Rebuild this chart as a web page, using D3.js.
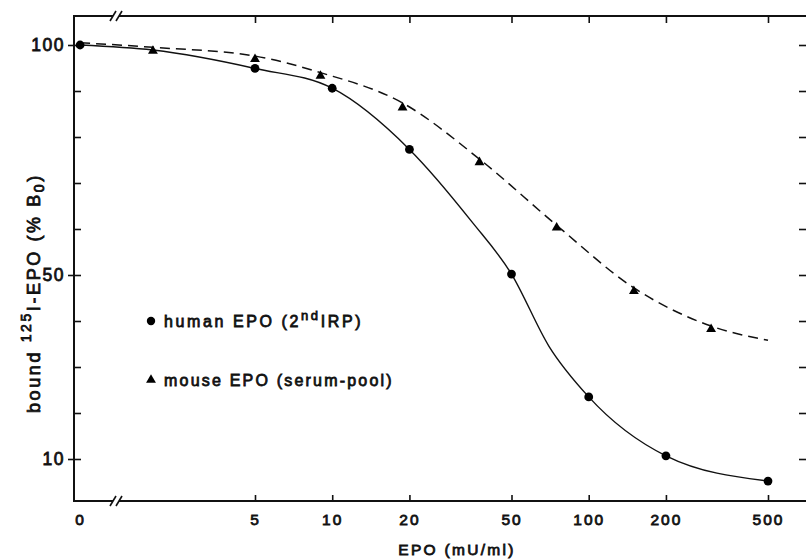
<!DOCTYPE html>
<html>
<head>
<meta charset="utf-8">
<script src="https://cdn.jsdelivr.net/npm/d3@7"></script>
<style>
  html, body { margin: 0; padding: 0; background: #fff; }
  svg { display: block; }
  text { font-family: "Liberation Sans", Arial, Helvetica, sans-serif; fill: #111; }
</style>
</head>
<body>
<svg id="chart" width="806" height="560"></svg>
<script>
// ---- data ----
const xTickValues = [0, 5, 10, 20, 50, 100, 200, 500];
const yMajorTicks = [10, 50, 100];
const yMinorTicks = [10, 20, 30, 40, 50, 60, 70, 80, 90, 100];

const humanX = [0, 5, 10, 20, 50, 100, 200, 500];
const humanY = [100.0, 94.9, 90.6, 77.3, 50.2, 23.5, 10.7, 5.2];

const mouseX = [2, 5, 9, 18.8, 37.5, 75, 150, 300];
const mouseY = [98.7, 96.9, 93.3, 86.4, 74.5, 60.3, 46.5, 38.2];

// fitted (solid) curve for human EPO
const humanFitX = [0, 2, 5, 10, 20, 35, 50, 70, 100, 200, 500];
const humanFitY = [100.0, 98.9, 94.9, 90.6, 77.3, 61.6, 50.2, 34.5, 23.5, 10.7, 5.2];

// fitted (dashed) curve for mouse EPO
const mouseFitX = [0, 2, 5, 9, 18.8, 37.5, 75, 150, 300, 500];
const mouseFitY = [100.5, 99.5, 97.6, 94.0, 87.4, 75.2, 60.8, 47.2, 38.9, 35.8];

const legendLabels = ["human EPO (2", "nd", "IRP)", "mouse EPO (serum-pool)"];

// ---- layout ----
const svg = d3.select("#chart");
const mLeft = 74, mRight = 807, mTop = 16, mBottom = 501;
const ZERO_AS = 1.04; // position used for the "0" dose on the broken log axis

const xLog = d3.scaleLog().domain([5, 500]).range([255, 768]);
const xs = v => v === 0 ? xLog(ZERO_AS) : xLog(v);
const y = d3.scaleLinear().domain([10, 100]).range([459, 45]);

const axisColor = "#111";
const TXT_STROKE = 0.8;

// ---- frame lines ----
const frame = svg.append("g").attr("stroke", axisColor).attr("stroke-width", 2).attr("fill", "none");
frame.append("line").attr("x1", mLeft).attr("x2", mLeft).attr("y1", mTop - 1).attr("y2", mBottom + 1);
frame.append("line").attr("x1", mLeft).attr("x2", mRight).attr("y1", mTop).attr("y2", mTop);
frame.append("line").attr("x1", mLeft).attr("x2", mRight).attr("y1", mBottom).attr("y2", mBottom);

// axis breaks "//"
function brk(cx, cy) {
  svg.append("rect").attr("x", cx - 3).attr("y", cy - 2).attr("width", 6).attr("height", 4).attr("fill", "#fff");
  [-3, 3].forEach(dx => {
    svg.append("line")
      .attr("x1", cx + dx - 3).attr("y1", cy + 5)
      .attr("x2", cx + dx + 3).attr("y2", cy - 5)
      .attr("stroke", axisColor).attr("stroke-width", 1.6);
  });
}
brk(116, mTop);
brk(116, mBottom);

// ---- x axis (bottom) ----
const xTickPos = xTickValues.map(v => v === 0 ? ZERO_AS : v);
const xAxis = d3.axisBottom(xLog)
  .tickValues(xTickPos)
  .tickFormat((d, i) => String(xTickValues[i]))
  .tickSizeInner(-6).tickSizeOuter(0).tickPadding(13);
const gx = svg.append("g").attr("transform", `translate(0,${mBottom})`).call(xAxis);
gx.select(".domain").remove();
gx.selectAll(".tick line").attr("stroke", axisColor).attr("stroke-width", 1.6)
  .filter(d => d === ZERO_AS).remove();
gx.selectAll(".tick text").attr("font-size", 15.5).attr("letter-spacing", 2).attr("fill", "#111")
  .attr("stroke", "#111").attr("stroke-width", TXT_STROKE);

// top mirrored ticks
const gxt = svg.append("g").attr("transform", `translate(0,${mTop})`)
  .call(d3.axisTop(xLog).tickValues(xTickPos.filter(d => d !== ZERO_AS)).tickSizeInner(-7).tickSizeOuter(0).tickFormat(""));
gxt.select(".domain").remove();
gxt.selectAll(".tick line").attr("stroke", axisColor).attr("stroke-width", 1.6);

// ---- y axis (left) ----
const gy = svg.append("g").attr("transform", `translate(${mLeft},0)`)
  .call(d3.axisLeft(y).tickValues(yMajorTicks).tickSizeInner(6).tickSizeOuter(0).tickPadding(3));
gy.select(".domain").remove();
gy.selectAll(".tick line").attr("stroke", axisColor).attr("stroke-width", 1.6);
gy.selectAll(".tick text").attr("font-size", 17.5).attr("letter-spacing", 1.5).attr("fill", "#111")
  .attr("stroke", "#111").attr("stroke-width", TXT_STROKE);

const gyi = svg.append("g").attr("transform", `translate(${mLeft},0)`)
  .call(d3.axisRight(y).tickValues(yMinorTicks).tickSizeInner(7).tickSizeOuter(0).tickFormat(""));
gyi.select(".domain").remove();
gyi.selectAll(".tick line").attr("stroke", axisColor).attr("stroke-width", 1.6);

// right mirrored ticks
const gyr = svg.append("g").attr("transform", `translate(${mRight - 1},0)`)
  .call(d3.axisLeft(y).tickValues(yMinorTicks).tickSizeInner(7).tickSizeOuter(0).tickFormat(""));
gyr.select(".domain").remove();
gyr.selectAll(".tick line").attr("stroke", axisColor).attr("stroke-width", 1.6);

// ---- axis titles ----
svg.append("text").attr("x", 457).attr("y", 555).attr("text-anchor", "middle")
  .attr("font-size", 15.5).attr("letter-spacing", 2.3)
  .attr("stroke", "#111").attr("stroke-width", TXT_STROKE)
  .text("EPO (mU/ml)");

const yt = svg.append("text").attr("transform", "translate(40,413) rotate(-90)")
  .attr("font-size", 18).attr("letter-spacing", 2.6)
  .attr("stroke", "#111").attr("stroke-width", TXT_STROKE);
yt.append("tspan").text("bound ");
yt.append("tspan").attr("dy", -9).attr("font-size", 14).text("125");
yt.append("tspan").attr("dy", 9).text("I-EPO (% B");
yt.append("tspan").attr("dy", 4).attr("font-size", 14).text("0");
yt.append("tspan").attr("dy", -4).text(")");

// ---- curves ----
const human = humanX.map((x, i) => [xs(x), y(humanY[i])]);
const mouse = mouseX.map((x, i) => [xs(x), y(mouseY[i])]);
const humanFit = humanFitX.map((x, i) => [xs(x), y(humanFitY[i])]);
const mouseFit = mouseFitX.map((x, i) => [xs(x), y(mouseFitY[i])]);

const line = d3.line().curve(d3.curveMonotoneX);
svg.append("path").attr("d", line(humanFit)).attr("fill", "none").attr("stroke", "#111").attr("stroke-width", 1.4);
svg.append("path").attr("d", line(mouseFit)).attr("fill", "none").attr("stroke", "#111").attr("stroke-width", 1.5)
  .attr("stroke-dasharray", "10,6");

// ---- markers ----
svg.append("g").selectAll("circle").data(human).join("circle")
  .attr("cx", d => d[0]).attr("cy", d => d[1]).attr("r", 4.4).attr("fill", "#000");
const tri = d3.symbol().type(d3.symbolTriangle).size(42);
svg.append("g").selectAll("path").data(mouse).join("path")
  .attr("d", tri).attr("transform", d => `translate(${d[0]},${d[1]})`).attr("fill", "#000");

// ---- legend ----
svg.append("circle").attr("cx", 151).attr("cy", 321).attr("r", 4.2).attr("fill", "#000");
const l1 = svg.append("text").attr("x", 164).attr("y", 327).attr("font-size", 16).attr("letter-spacing", 2.6)
  .attr("stroke", "#111").attr("stroke-width", TXT_STROKE);
l1.append("tspan").text(legendLabels[0]);
l1.append("tspan").attr("dy", -7).attr("font-size", 13).text(legendLabels[1]);
l1.append("tspan").attr("dy", 7).text(legendLabels[2]);

svg.append("path").attr("d", tri).attr("transform", "translate(151,380)").attr("fill", "#000");
svg.append("text").attr("x", 164).attr("y", 386).attr("font-size", 16).attr("letter-spacing", 2.2)
  .attr("stroke", "#111").attr("stroke-width", TXT_STROKE)
  .text(legendLabels[3]);
</script>
</body>
</html>
